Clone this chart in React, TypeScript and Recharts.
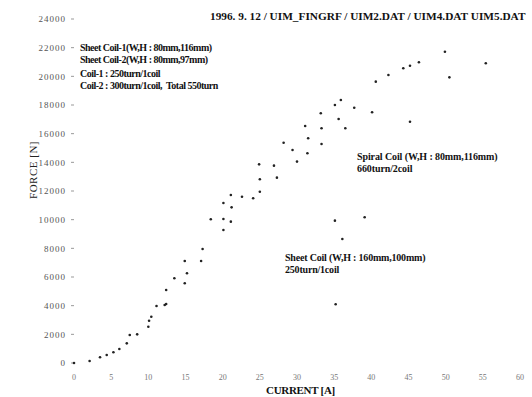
import React from "react";
import { ScatterChart, Scatter, XAxis, YAxis } from "recharts";

// current [A], force [N]
const sheetCoil12Current = [0, 2.1, 3.5, 4.4, 5.3, 6.1, 7.1, 7.5, 8.5, 10.0, 10.1, 10.4, 11.1, 12.2, 12.4, 12.4, 13.5, 14.9, 15.2, 14.9, 17.1, 17.3, 18.4, 20.1, 20.1, 20.1, 21.1, 21.2];
const sheetCoil12Force = [0, 140, 400, 560, 745, 980, 1370, 1950, 2000, 2530, 2950, 3230, 3980, 4050, 4120, 5090, 5910, 5560, 6260, 7120, 7120, 7950, 10030, 9280, 10050, 11160, 9860, 10860];

const spiralCurrent = [21.1, 22.6, 24.1, 25.0, 25.0, 27.3, 24.9, 26.9, 30.0, 28.2, 29.4, 31.4, 31.1, 31.5, 33.3, 33.3, 36.5, 33.2, 35.6, 37.7, 40.1, 45.2, 35.1, 35.9, 40.6, 42.3, 44.3, 45.2, 46.4, 49.9, 50.5, 55.4];
const spiralForce = [11720, 11600, 11490, 11950, 12820, 12930, 13860, 13770, 14050, 15370, 14860, 14630, 16540, 15680, 16380, 15280, 16380, 17420, 17020, 17810, 17490, 16830, 18000, 18350, 19630, 20090, 20560, 20740, 20980, 21720, 19930, 20910];

const sheetCoilCurrent = [35.1, 39.1, 36.1, 35.2];
const sheetCoilForce = [9930, 10170, 8650, 4100];

const xTicks = [0, 5, 10, 15, 20, 25, 30, 35, 40, 45, 50, 55, 60];
const yTicks = [0, 2000, 4000, 6000, 8000, 10000, 12000, 14000, 16000, 18000, 20000, 22000, 24000];

const toPoints = (xs: number[], ys: number[]) => xs.map((x, i) => ({ x, y: ys[i] }));

const Dot = (props: any) => (
  <circle cx={props.cx} cy={props.cy} r={1.3} fill="#222" />
);

const bold: React.CSSProperties = {
  position: "absolute",
  fontFamily: "Liberation Serif",
  fontWeight: "bold",
  fontSize: 10,
  letterSpacing: -0.5,
  color: "#111",
  whiteSpace: "nowrap",
  lineHeight: "12px",
};

export default function App() {
  return (
    <div style={{ position: "absolute", left: 0, top: 0, width: 532, height: 397, background: "#fff" }}>
      <ScatterChart width={532} height={397} margin={{ top: 19, right: 12, bottom: 0, left: 0 }}>
        <XAxis
          type="number"
          dataKey="x"
          domain={[0, 60]}
          ticks={xTicks}
          axisLine={false}
          tickLine={false}
          tickMargin={5}
          height={34}
          tick={{ fontSize: 8, fill: "#777", fontFamily: "Liberation Serif" }}
        />
        <YAxis
          type="number"
          dataKey="y"
          domain={[0, 24000]}
          ticks={yTicks}
          width={74}
          axisLine={false}
          tickSize={3}
          tickMargin={5}
          stroke="#999"
          tick={{ fontSize: 9, fill: "#555", fontFamily: "Liberation Serif", letterSpacing: 1 }}
        />
        <Scatter data={toPoints(sheetCoil12Current, sheetCoil12Force)} shape={Dot} isAnimationActive={false} />
        <Scatter data={toPoints(spiralCurrent, spiralForce)} shape={Dot} isAnimationActive={false} />
        <Scatter data={toPoints(sheetCoilCurrent, sheetCoilForce)} shape={Dot} isAnimationActive={false} />
      </ScatterChart>

      <div style={{ ...bold, left: 210, top: 10, fontSize: 11.3, letterSpacing: 0 }}>
        1996. 9. 12 / UIM_FINGRF / UIM2.DAT / UIM4.DAT UIM5.DAT
      </div>
      <div style={{ ...bold, left: 80, top: 42 }}>
        Sheet Coil-1(W,H : 80mm,116mm)
        <br />
        Sheet Coil-2(W,H : 80mm,97mm)
      </div>
      <div style={{ ...bold, left: 80, top: 68 }}>
        Coil-1 : 250turn/1coil
        <br />
        Coil-2 : 300turn/1coil,&nbsp;&nbsp;Total 550turn
      </div>
      <div style={{ ...bold, left: 357, top: 151, letterSpacing: -0.1 }}>
        Spiral Coil (W,H : 80mm,116mm)
        <br />
        660turn/2coil
      </div>
      <div style={{ ...bold, left: 285, top: 252, letterSpacing: -0.2 }}>
        Sheet Coil (W,H : 160mm,100mm)
        <br />
        250turn/1coil
      </div>
      <div
        style={{
          position: "absolute",
          left: 33,
          top: 170,
          transform: "translate(-50%, -50%) rotate(-90deg)",
          fontFamily: "Liberation Serif",
          fontSize: 11,
          letterSpacing: 0.5,
          color: "#222",
          whiteSpace: "nowrap",
        }}
      >
        FORCE [N]
      </div>
      <div style={{ ...bold, left: 266, top: 385, fontSize: 11, letterSpacing: -0.3, lineHeight: "11px" }}>CURRENT [A]</div>
    </div>
  );
}
